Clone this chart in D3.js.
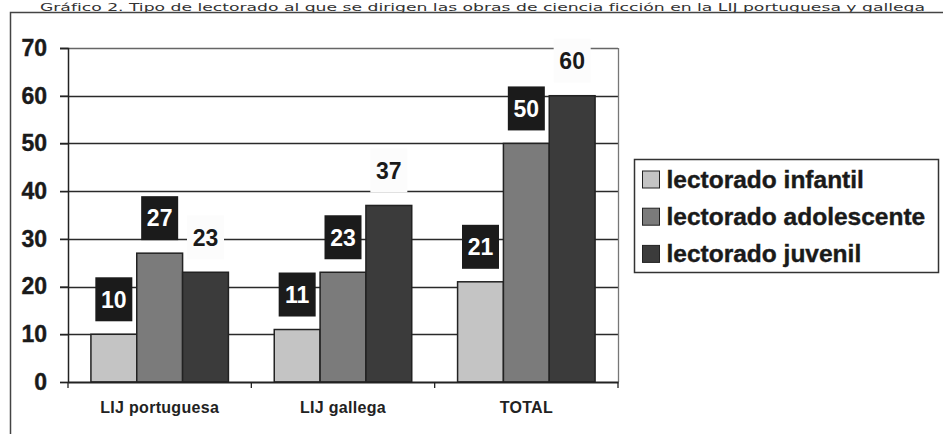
<!DOCTYPE html>
<html lang="es">
<head>
    <meta charset="UTF-8">
    <title>Gráfico 2</title>
    <script src="https://d3js.org/d3.v7.min.js"></script>
    <style>
        body { margin: 0; background: #fff; }
        svg { display: block; }
    </style>
</head>
<body>
    <div id="chart"></div>
    <script>
        // values
        const categories = ["LIJ portuguesa", "LIJ gallega", "TOTAL"];
        const series = ["lectorado infantil", "lectorado adolescente", "lectorado juvenil"];
        const infantil = [10, 11, 21];
        const adolescente = [27, 23, 50];
        const juvenil = [23, 37, 60];
        const yTicks = [0, 10, 20, 30, 40, 50, 60, 70];
        const title = "Gráfico 2. Tipo de lectorado al que se dirigen las obras de ciencia ficción en la LIJ portuguesa y gallega";

        const values = [infantil, adolescente, juvenil];
        const colors = ["#c4c4c4", "#7b7b7b", "#3b3b3b"];

        const width = 943, height = 434;
        const svg = d3.select("#chart").append("svg")
            .attr("width", width)
            .attr("height", height);

        // title squeezed into the strip above the frame
        svg.append("text")
            .attr("x", 40)
            .attr("y", 10.5)
            .attr("textLength", 885)
            .attr("lengthAdjust", "spacingAndGlyphs")
            .attr("font-family", "'Liberation Sans Narrow', 'DejaVu Sans Condensed', sans-serif")
            .attr("font-size", "11px")
            .attr("fill", "#333")
            .text(title);

        // outer frame (left and top only visible)
        svg.append("path")
            .attr("d", `M10.5,${height} V12.5 H${width}`)
            .attr("fill", "none")
            .attr("stroke", "#444")
            .attr("stroke-width", 1.5);

        const x0 = d3.scaleBand().domain(categories).range([68, 618]);
        const bw = x0.bandwidth();
        const x1 = d3.scaleBand().domain(d3.range(series.length)).range([bw * 0.125, bw * 0.875]);
        const y = d3.scaleLinear().domain([0, 70]).range([382, 48]);

        // gridlines
        svg.append("g")
            .selectAll("line")
            .data(yTicks.filter(d => d > 0))
            .join("line")
            .attr("x1", 60).attr("x2", 618)
            .attr("y1", d => Math.round(y(d)) + 0.5)
            .attr("y2", d => Math.round(y(d)) + 0.5)
            .attr("stroke", d => d === 70 ? "#666" : "#2a2a2a")
            .attr("stroke-width", 1.4);

        // plot right border
        svg.append("line")
            .attr("x1", 618.5).attr("x2", 618.5)
            .attr("y1", y(70)).attr("y2", y(0))
            .attr("stroke", "#777")
            .attr("stroke-width", 1.3);

        // bars
        const groups = svg.append("g")
            .selectAll("g")
            .data(categories)
            .join("g")
            .attr("transform", d => `translate(${x0(d)},0)`);

        groups.selectAll("rect")
            .data((c, ci) => values.map((s, si) => ({ si, v: s[ci] })))
            .join("rect")
            .attr("x", d => x1(d.si))
            .attr("width", x1.bandwidth())
            .attr("y", d => y(d.v))
            .attr("height", d => y(0) - y(d.v))
            .attr("fill", d => colors[d.si])
            .attr("stroke", "#222")
            .attr("stroke-width", 1.5);

        // y axis
        const yAxis = svg.append("g")
            .attr("transform", "translate(68,0)")
            .call(d3.axisLeft(y).tickValues(yTicks).tickSize(8).tickPadding(13));
        yAxis.select(".domain").attr("stroke", "#222").attr("stroke-width", 1.5);
        yAxis.selectAll(".tick line").attr("stroke", "#222").attr("stroke-width", 1.3);
        yAxis.selectAll("text")
            .attr("font-family", "'Liberation Sans', Arial, sans-serif")
            .attr("font-size", "23px")
            .attr("font-weight", "bold")
            .attr("fill", "#1a1a1a")
            .attr("stroke", "#1a1a1a")
            .attr("stroke-width", 0.4);

        // x axis
        const xAxis = svg.append("g")
            .attr("transform", `translate(0,${y(0)})`)
            .call(d3.axisBottom(x0).tickSize(0).tickPadding(20));
        xAxis.select(".domain").attr("stroke", "#222").attr("stroke-width", 2);
        xAxis.selectAll("text")
            .attr("font-family", "'Liberation Sans', Arial, sans-serif")
            .attr("font-size", "16px")
            .attr("font-weight", "bold")
            .attr("letter-spacing", "0.3px")
            .attr("fill", "#222");
        // separator ticks between categories
        svg.append("g")
            .selectAll("line")
            .data([68, ...categories.map(c => x0(c) + bw)])
            .join("line")
            .attr("x1", d => d).attr("x2", d => d)
            .attr("y1", y(0)).attr("y2", y(0) + 6)
            .attr("stroke", "#222")
            .attr("stroke-width", 1.3);

        // data labels
        const boxW = 37, boxH = 44, gap = 13;
        groups.selectAll("g.lbl")
            .data((c, ci) => values.map((s, si) => ({ si, v: s[ci] })))
            .join("g")
            .attr("class", "lbl")
            .attr("transform", d => `translate(${x1(d.si) + x1.bandwidth() / 2},${y(d.v) - gap - boxH / 2})`)
            .each(function(d) {
                const g = d3.select(this);
                const dark = d.si < 2;
                g.append("rect")
                    .attr("x", -boxW / 2).attr("y", -boxH / 2)
                    .attr("width", boxW).attr("height", boxH)
                    .attr("fill", dark ? "#1b1b1b" : "#fcfcfc");
                g.append("text")
                    .attr("text-anchor", "middle")
                    .attr("dy", "0.36em")
                    .attr("font-family", "'Liberation Sans', Arial, sans-serif")
                    .attr("font-size", "23px")
                    .attr("font-weight", "bold")
                    .attr("fill", dark ? "#fff" : "#1a1a1a")
                    .text(d.v);
            });

        // legend
        const legend = svg.append("g");
        legend.append("rect")
            .attr("x", 634.5).attr("y", 159.5)
            .attr("width", 304).attr("height", 113)
            .attr("fill", "#fff")
            .attr("stroke", "#333")
            .attr("stroke-width", 1.5);

        const items = legend.selectAll("g.item")
            .data(series)
            .join("g")
            .attr("class", "item")
            .attr("transform", (d, i) => `translate(642.5,${179.5 + i * 37.2})`);
        items.append("rect")
            .attr("x", 0).attr("y", -8.5)
            .attr("width", 17).attr("height", 17)
            .attr("fill", (d, i) => colors[i])
            .attr("stroke", "#222")
            .attr("stroke-width", 1);
        items.append("text")
            .attr("x", 24)
            .attr("y", 8.5)
            .attr("font-family", "'Liberation Sans', Arial, sans-serif")
            .attr("font-size", "24.5px")
            .attr("font-weight", "bold")
            .attr("fill", "#1a1a1a")
            .attr("stroke", "#1a1a1a")
            .attr("stroke-width", 0.4)
            .text(d => d);
    </script>
</body>
</html>
